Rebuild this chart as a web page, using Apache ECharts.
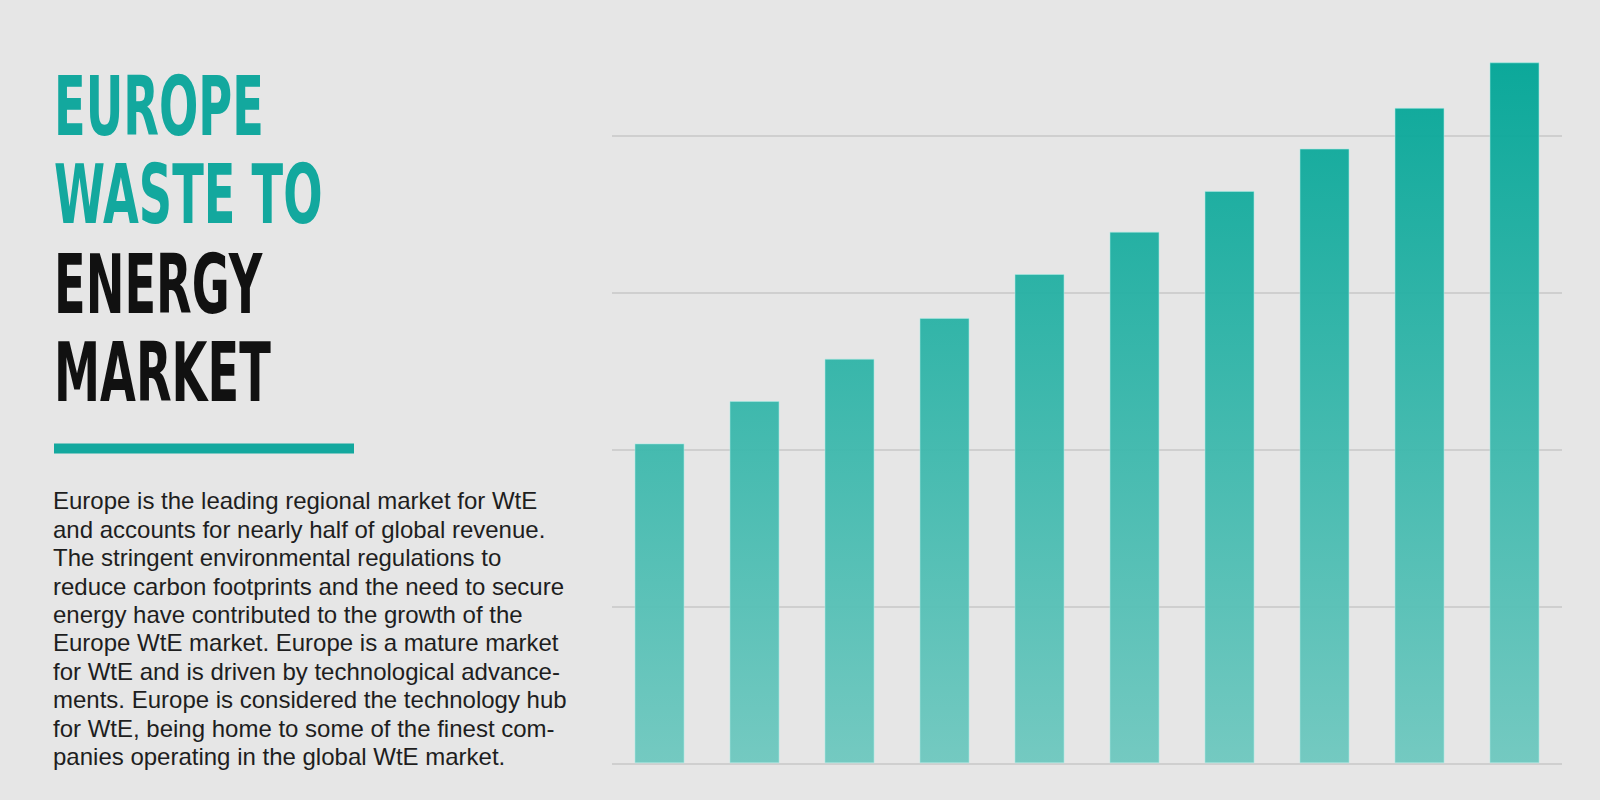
<!DOCTYPE html>
<html>
<head>
<meta charset="utf-8">
<title>Europe Waste to Energy Market</title>
<script src="https://cdn.jsdelivr.net/npm/echarts@6/dist/echarts.min.js"></script>
<style>
  html, body { margin: 0; padding: 0; background: #e6e6e6; }
  #main { width: 1600px; height: 800px; }
</style>
</head>
<body>
<div id="main"></div>
<script>
// bar heights (one grid step = 10)
var categories = ['1', '2', '3', '4', '5', '6', '7', '8', '9', '10'];
var values = [20.4, 23.1, 25.8, 28.4, 31.2, 33.9, 36.5, 39.2, 41.8, 44.7];

var titleTeal = ['EUROPE', 'WASTE TO'];
var titleBlack = ['ENERGY', 'MARKET'];
var bodyLines = [
  'Europe is the leading regional market for WtE',
  'and accounts for nearly half of global revenue.',
  'The stringent environmental regulations to',
  'reduce carbon footprints and the need to secure',
  'energy have contributed to the growth of the',
  'Europe WtE market. Europe is a mature market',
  'for WtE and is driven by technological advance-',
  'ments. Europe is considered the technology hub',
  'for WtE, being home to some of the finest com-',
  'panies operating in the global WtE market.'
];

var teal = '#13a89e';
var dom = document.getElementById('main');
var myChart = echarts.init(dom, null, { renderer: 'svg' });

function titleLine(txt, y, color) {
  return {
    type: 'text',
    x: 54,
    y: y,
    scaleX: 0.565,
    style: {
      text: txt,
      x: 0,
      y: 0,
      fill: color,
      font: 'bold 82px "DejaVu Sans"',
      align: 'left',
      verticalAlign: 'middle'
    }
  };
}

var graphics = [];
var lineY = [106.7, 195, 285, 373];
titleTeal.forEach(function (t, i) { graphics.push(titleLine(t, lineY[i], teal)); });
titleBlack.forEach(function (t, i) { graphics.push(titleLine(t, lineY[i + 2], '#111111')); });
graphics.push({
  type: 'rect',
  shape: { x: 54, y: 443.5, width: 300, height: 10 },
  style: { fill: teal }
});
graphics.push({
  type: 'text',
  x: 53,
  y: 486.8,
  style: {
    text: bodyLines.join('\n'),
    fill: '#1e1e1e',
    font: '24px "Liberation Sans"',
    lineHeight: 28.4,
    align: 'left',
    verticalAlign: 'top'
  }
});

var option = {
  backgroundColor: '#e6e6e6',
  animation: false,
  grid: { left: 612, right: 38, top: 62.3, bottom: 36.7 },
  xAxis: {
    type: 'category',
    data: categories,
    axisLine: { show: false },
    axisTick: { show: false },
    axisLabel: { show: false }
  },
  yAxis: {
    type: 'value',
    min: 0,
    max: 44.7,
    interval: 10,
    axisLabel: { show: false },
    axisLine: { show: false },
    axisTick: { show: false },
    splitLine: {
      show: true,
      showMaxLine: false,
      lineStyle: { color: ['#cfcfcf', '#cfcfcf', '#cfcfcf', '#cfcfcf', '#cfcfcf', 'rgba(0,0,0,0)'], width: 2 }
    }
  },
  series: [{
    type: 'bar',
    data: values,
    barWidth: 50,
    itemStyle: {
      opacity: 0.95,
      borderColor: 'rgba(170,235,228,0.6)',
      borderWidth: 1,
      color: new echarts.graphic.LinearGradient(0, 62, 0, 763, [
        { offset: 0, color: '#00a596' },
        { offset: 1, color: '#6ec8bf' }
      ], true)
    }
  }],
  graphic: graphics
};

if (option && typeof option === 'object') {
  myChart.setOption(option, true);
}
</script>
</body>
</html>
